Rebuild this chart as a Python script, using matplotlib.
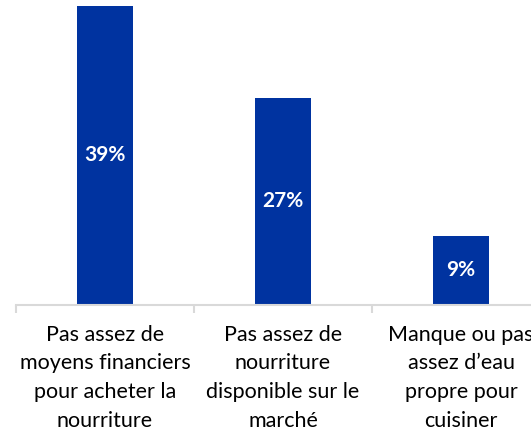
import matplotlib
matplotlib.use("Agg")
import matplotlib.pyplot as plt

categories = [
    "Pas assez de\nmoyens financiers\npour acheter la\nnourriture",
    "Pas assez de\nnourriture\ndisponible sur le\nmarché",
    "Manque ou pas\nassez d\u2019eau\npropre pour\ncuisiner",
]
values = [39, 27, 9]
value_labels = ["39%", "27%", "9%"]

BAR_COLOR = "#0033A0"
AXIS_COLOR = "#D9D9D9"
FONT = ["Lato", "DejaVu Sans"]

W, H = 531, 434
fig = plt.figure(figsize=(W / 100, H / 100), dpi=100)
# axes spans past the right edge so the last category is cut off
left_px, right_px, bottom_px, top_px = 16, 550, 304.5, 0
ax = fig.add_axes([left_px / W, 1 - bottom_px / H,
                   (right_px - left_px) / W, (bottom_px - top_px) / H])

x = list(range(len(values)))
bars = ax.bar(x, values, width=0.315, color=BAR_COLOR, zorder=2)

ax.set_xlim(-0.5, len(values) - 0.5)
ax.set_ylim(0, 39.8)

for b, lab in zip(bars, value_labels):
    ax.text(b.get_x() + b.get_width() / 2, b.get_height() / 2, lab,
            ha="center", va="center", color="white", fontsize=15,
            fontweight="bold", family=FONT)

for s in ["top", "right", "left"]:
    ax.spines[s].set_visible(False)
ax.spines["bottom"].set_color(AXIS_COLOR)
ax.spines["bottom"].set_linewidth(1.5)
ax.set_yticks([])

ax.set_xticks(x)
ax.set_xticklabels(categories, family=FONT, fontsize=15.5, color="black",
                   linespacing=1.55)
ax.tick_params(axis="x", which="major", length=0, pad=14.5)
ax.set_xticks([i - 0.5 for i in range(len(values) + 1)], minor=True)
ax.tick_params(axis="x", which="minor", length=6, width=1.5, color=AXIS_COLOR)

fig.savefig("out.png", dpi=100)
